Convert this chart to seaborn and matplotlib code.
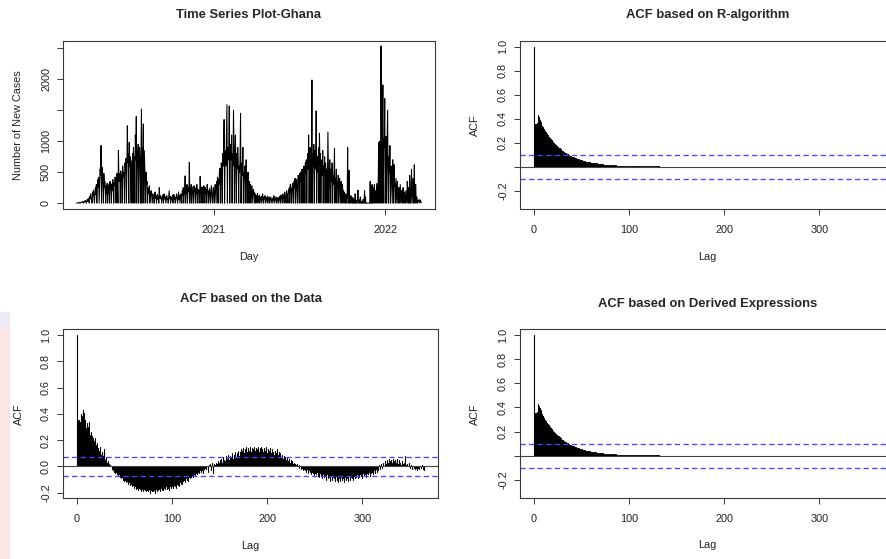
import pandas as pd
import seaborn as sns
import matplotlib.pyplot as plt
import matplotlib.dates as mdates
from matplotlib.patches import Rectangle

# daily new cases, starting mid March 2020
start_date = '2020-03-15'
cases = [
    0, 2, 0, 5, 8, 3, 10, 6, 0, 12,
    15, 8, 20, 30, 12, 0, 25, 35, 18, 40,
    22, 0, 45, 60, 30, 80, 50, 0, 110, 70,
    150, 90, 60, 0, 180, 120, 210, 80, 0, 160,
    250, 140, 300, 0, 220, 380, 260, 420, 0, 310,
    550, 450, 930, 0, 580, 400, 300, 0, 480, 260,
    350, 200, 0, 280, 150, 320, 0, 240, 180, 300,
    0, 350, 220, 270, 0, 310, 200, 380, 260, 0,
    330, 290, 420, 250, 0, 380, 480, 300, 0, 850,
    400, 350, 480, 0, 520, 380, 450, 0, 600, 420,
    500, 380, 0, 650, 480, 720, 0, 550, 1250, 650,
    800, 0, 980, 600, 750, 420, 0, 680, 520, 800,
    0, 900, 650, 750, 0, 1100, 700, 1400, 0, 850,
    600, 950, 0, 700, 900, 650, 0, 800, 1520, 0,
    900, 700, 1280, 0, 850, 600, 400, 0, 500, 300,
    350, 0, 250, 200, 150, 280, 0, 180, 120, 200,
    100, 0, 150, 90, 130, 0, 110, 180, 80, 120,
    0, 90, 140, 60, 100, 0, 250, 80, 120, 70,
    100, 0, 60, 130, 90, 0, 150, 70, 110, 50,
    0, 90, 120, 60, 80, 0, 100, 200, 70, 110,
    0, 60, 90, 50, 130, 0, 80, 140, 60, 100,
    0, 70, 110, 150, 50, 0, 90, 180, 60, 120,
    0, 80, 150, 100, 0, 200, 130, 250, 0, 180,
    150, 440, 0, 220, 160, 300, 0, 200, 250, 180,
    660, 0, 240, 170, 300, 0, 260, 200, 150, 0,
    280, 190, 250, 0, 210, 160, 300, 0, 230, 180,
    200, 0, 170, 430, 240, 0, 190, 260, 150, 0,
    210, 280, 180, 0, 250, 150, 220, 0, 300, 170,
    200, 0, 160, 240, 130, 0, 190, 280, 150, 0,
    120, 250, 180, 0, 200, 300, 160, 0, 350, 250,
    420, 0, 380, 300, 500, 560, 0, 450, 650, 500,
    0, 800, 600, 900, 1350, 0, 700, 850, 600, 1100,
    1590, 0, 900, 700, 800, 1570, 0, 650, 950, 700,
    1100, 0, 800, 600, 1500, 900, 0, 750, 1100, 650,
    0, 800, 550, 900, 700, 0, 600, 500, 750, 1450,
    0, 550, 650, 450, 900, 0, 500, 400, 600, 0,
    450, 700, 350, 0, 400, 500, 300, 0, 350, 250,
    300, 0, 200, 280, 150, 0, 220, 130, 180, 0,
    150, 100, 0, 120, 80, 160, 0, 100, 70, 130,
    0, 90, 60, 110, 0, 80, 150, 50, 0, 100,
    70, 120, 0, 60, 90, 40, 0, 110, 70, 50,
    0, 80, 100, 60, 0, 50, 90, 40, 0, 70,
    120, 60, 0, 80, 50, 100, 0, 60, 40, 90,
    0, 70, 110, 50, 0, 130, 80, 60, 0, 150,
    100, 80, 0, 180, 120, 90, 0, 200, 150, 110,
    0, 220, 160, 250, 0, 300, 180, 240, 0, 280,
    320, 200, 0, 350, 260, 400, 0, 300, 380, 250,
    0, 400, 450, 300, 0, 480, 350, 500, 0, 420,
    550, 380, 0, 500, 600, 450, 0, 650, 500, 700,
    0, 600, 800, 550, 1100, 0, 700, 900, 650, 0,
    750, 1990, 0, 800, 600, 950, 0, 700, 850, 550,
    1490, 0, 600, 750, 500, 900, 0, 1130, 650, 800,
    0, 550, 700, 450, 850, 0, 600, 500, 750, 0,
    650, 450, 550, 0, 400, 1150, 600, 0, 500, 700,
    400, 0, 550, 350, 650, 0, 450, 300, 500, 880,
    0, 400, 300, 550, 0, 350, 250, 450, 0, 300,
    400, 200, 0, 350, 250, 0, 300, 150, 200, 0,
    180, 100, 0, 150, 0, 120, 80, 900, 0, 100,
    530, 0, 80, 0, 120, 50, 0, 0, 90, 0,
    60, 0, 0, 150, 0, 40, 0, 0, 80, 210,
    0, 0, 50, 0, 100, 0, 0, 30, 0, 0,
    60, 0, 0, 200, 0, 100, 0, 0, 0, 0,
    0, 0, 0, 0, 0, 350, 0, 150, 0, 300,
    0, 250, 180, 0, 300, 0, 200, 150, 0, 280,
    320, 0, 250, 980, 0, 1000, 700, 0, 2540, 1000,
    0, 800, 1910, 0, 1050, 900, 1690, 0, 700, 1075,
    0, 900, 1500, 600, 0, 750, 500, 930, 0, 400,
    600, 300, 0, 700, 450, 0, 620, 350, 250, 0,
    400, 200, 0, 350, 150, 0, 250, 100, 0, 300,
    150, 0, 200, 80, 0, 250, 100, 0, 180, 50,
    0, 200, 100, 0, 350, 150, 0, 250, 0, 450,
    100, 0, 300, 550, 0, 200, 400, 0, 150, 620,
    0, 250, 300, 0, 100, 60, 0, 40, 20, 60,
    30, 0, 50, 20, 10,
]
case_ticks = [0, 500, 1000, 1500, 2000, 2500]
case_labels = ['0', '500', '1000', '', '2000', '']

# sample ACF of the data, lags 0..365
acf_data = [
    1.00, 0.35, 0.35, 0.34, 0.40, 0.38, 0.43, 0.40, 0.41, 0.35,
    0.29, 0.33, 0.30, 0.34, 0.24, 0.26, 0.23, 0.22, 0.19, 0.22,
    0.16, 0.18, 0.14, 0.12, 0.15, 0.09, 0.11, 0.08, 0.10, 0.13,
    0.05, 0.07, 0.03, 0.04, 0.02, 0.01, 0.00, -0.02, -0.03, -0.04,
    -0.05, -0.04, -0.06, -0.07, -0.06, -0.08, -0.09, -0.08, -0.10, -0.09,
    -0.11, -0.10, -0.12, -0.11, -0.13, -0.12, -0.14, -0.13, -0.15, -0.14,
    -0.16, -0.15, -0.17, -0.16, -0.18, -0.16, -0.17, -0.19, -0.17, -0.18,
    -0.19, -0.17, -0.18, -0.19, -0.18, -0.19, -0.17, -0.20, -0.18, -0.19,
    -0.19, -0.18, -0.20, -0.17, -0.19, -0.18, -0.17, -0.19, -0.16, -0.18,
    -0.17, -0.18, -0.16, -0.17, -0.15, -0.17, -0.16, -0.18, -0.15, -0.16,
    -0.15, -0.16, -0.14, -0.15, -0.16, -0.13, -0.14, -0.15, -0.12, -0.13,
    -0.12, -0.13, -0.11, -0.10, -0.12, -0.09, -0.10, -0.11, -0.08, -0.09,
    -0.08, -0.07, -0.08, -0.06, -0.07, -0.05, -0.06, -0.04, -0.05, -0.03,
    -0.04, -0.02, -0.03, -0.05, -0.02, -0.01, -0.02, 0.00, -0.04, 0.01,
    0.02, -0.03, 0.03, -0.05, 0.02, 0.01, 0.03, 0.02, 0.04, 0.03,
    0.05, 0.04, 0.06, 0.03, 0.07, 0.05, 0.04, 0.08, 0.06, 0.09,
    0.05, 0.08, 0.07, 0.10, 0.06, 0.09, 0.11, 0.07, 0.10, 0.12,
    0.08, 0.11, 0.13, 0.09, 0.12, 0.14, 0.10, 0.13, 0.15, 0.11,
    0.14, 0.12, 0.15, 0.11, 0.14, 0.13, 0.15, 0.12, 0.14, 0.13,
    0.15, 0.11, 0.14, 0.12, 0.15, 0.13, 0.11, 0.14, 0.12, 0.15,
    0.10, 0.13, 0.12, 0.14, 0.10, 0.13, 0.11, 0.09, 0.12, 0.10,
    0.13, 0.09, 0.11, 0.08, 0.10, 0.07, 0.09, 0.06, 0.08, 0.07,
    0.05, 0.07, 0.04, 0.06, 0.03, 0.05, 0.04, 0.02, 0.03, 0.02,
    0.01, 0.02, 0.00, 0.01, -0.01, 0.00, -0.02, -0.01, -0.03, -0.02,
    -0.03, -0.04, -0.02, -0.05, -0.03, -0.04, -0.06, -0.04, -0.05, -0.07,
    -0.05, -0.06, -0.04, -0.07, -0.06, -0.08, -0.05, -0.07, -0.09, -0.06,
    -0.08, -0.07, -0.10, -0.06, -0.09, -0.08, -0.11, -0.07, -0.10, -0.08,
    -0.09, -0.11, -0.07, -0.10, -0.12, -0.08, -0.09, -0.11, -0.08, -0.10,
    -0.09, -0.12, -0.08, -0.10, -0.09, -0.11, -0.07, -0.10, -0.08, -0.09,
    -0.10, -0.07, -0.09, -0.08, -0.06, -0.09, -0.07, -0.08, -0.06, -0.07,
    -0.09, -0.05, -0.07, -0.06, -0.08, -0.05, -0.06, -0.04, -0.07, -0.05,
    -0.04, -0.06, -0.03, -0.05, -0.02, -0.04, -0.01, -0.03, 0.01, -0.02,
    0.02, -0.01, 0.03, 0.00, 0.04, 0.02, 0.05, 0.03, 0.06, 0.04,
    0.05, 0.03, 0.06, 0.04, 0.05, 0.03, 0.06, 0.04, 0.02, 0.05,
    0.03, 0.01, 0.04, 0.02, 0.03, 0.08, 0.01, 0.02, 0.00, 0.03,
    -0.01, 0.01, -0.02, 0.00, -0.01, -0.02, -0.01, -0.02, -0.03, -0.01,
    -0.02, 0.00, -0.01, 0.01, -0.02, -0.03,
]

# model ACF (R algorithm), lags 0..132; beyond that it is ~0
acf_r_algorithm = [
    1.000, 0.355, 0.355, 0.360,
    0.430, 0.411, 0.393, 0.376, 0.359, 0.343, 0.328, 0.314, 0.300, 0.287,
    0.274, 0.262, 0.251, 0.240, 0.229, 0.219, 0.209, 0.200, 0.191, 0.183,
    0.175, 0.167, 0.160, 0.153, 0.146, 0.140, 0.133, 0.128, 0.122, 0.117,
    0.111, 0.106, 0.102, 0.097, 0.093, 0.089, 0.085, 0.081, 0.078, 0.074,
    0.071, 0.068, 0.065, 0.062, 0.059, 0.057, 0.054, 0.052, 0.050, 0.047,
    0.045, 0.043, 0.041, 0.040, 0.038, 0.036, 0.035, 0.033, 0.032, 0.030,
    0.029, 0.028, 0.027, 0.025, 0.024, 0.023, 0.022, 0.021, 0.020, 0.019,
    0.018, 0.018, 0.017, 0.016, 0.015, 0.015, 0.014, 0.013, 0.013, 0.012,
    0.012, 0.011, 0.011, 0.010, 0.010, 0.009, 0.009, 0.009, 0.008, 0.008,
    0.008, 0.008, 0.007, 0.007, 0.007, 0.007, 0.007, 0.006, 0.006, 0.006,
    0.006, 0.006, 0.006, 0.005, 0.005, 0.005, 0.005, 0.005, 0.005, 0.005,
    0.005, 0.005, 0.004, 0.004, 0.004, 0.004, 0.004, 0.004, 0.004, 0.004,
    0.004, 0.004, 0.004, 0.004, 0.004, 0.004, 0.004, 0.004, 0.004,
]
# the derived expressions give the same curve
acf_derived = list(acf_r_algorithm)

ci_data = 0.072
ci_model = 0.10
lag_ticks = [0, 100, 200, 300]
acf_ticks = [-0.2, 0.0, 0.2, 0.4, 0.6, 0.8, 1.0]

sns.set_style('ticks')
plt.rcParams['font.family'] = ['Liberation Sans', 'DejaVu Sans']
plt.rcParams['axes.unicode_minus'] = False

BOX = '#3a3a3a'
FS = 7.8
TFS = 9.4


def r_style(ax, xlabel, ylabel, xlab_y, ylab_x):
    for s in ax.spines.values():
        s.set_visible(True)
        s.set_color(BOX)
        s.set_linewidth(0.8)
    ax.tick_params(axis='both', direction='out', length=4.3, width=0.7,
                   color=BOX, labelsize=FS, labelcolor='#222222')
    ax.tick_params(axis='x', pad=7.0)
    ax.tick_params(axis='y', pad=4.3, labelrotation=90)
    for lab in ax.get_yticklabels():
        lab.set_va('center')
    ax.set_xlabel(xlabel, fontsize=FS, color='#222222')
    ax.set_ylabel(ylabel, fontsize=FS, color='#222222')
    ax.xaxis.label.set_va('center')
    ax.yaxis.label.set_va('center')
    ax.xaxis.set_label_coords(0.5, xlab_y)
    ax.yaxis.set_label_coords(ylab_x, 0.5)


def acf_panel(ax, values, ci, title, title_y, ylim, show_zero, xlab_y, ylab_x):
    lags = list(range(len(values)))
    ax.vlines(lags, 0, values, color='black', lw=0.8, capstyle='round')
    ax.axhline(0, color='#444444', lw=0.8)
    for c in (ci, -ci):
        ax.axhline(c, color='#4646ff', lw=0.95, ls=(0, (4, 2.5)))
    ax.set_xlim(-14.6, 379.6)
    ax.set_ylim(*ylim)
    ax.set_xticks(lag_ticks)
    ax.set_yticks(acf_ticks)
    labels = [f'{t:.1f}' for t in acf_ticks]
    if not show_zero:
        labels[1] = ''
    ax.set_yticklabels(labels)
    ax.set_title(title, fontsize=TFS, fontweight='bold', y=title_y, va='center', pad=0)
    r_style(ax, 'Lag', 'ACF', xlab_y, ylab_x)


fig = plt.figure(figsize=(8.86, 5.59), dpi=100)
W, H = 886, 559

# faint coloured strip at the left edge of the lower half (page background)
fig.patches.append(Rectangle((0, 1 - 327 / H), 10 / W, 15 / H, transform=fig.transFigure,
                             color='#eceaf6', lw=0, zorder=-1))
fig.patches.append(Rectangle((0, 0), 10 / W, 1 - 327 / H, transform=fig.transFigure,
                             color='#fbe6e6', lw=0, zorder=-1))


def add_axes(left, top, right, bottom):
    return fig.add_axes([left / W, 1 - bottom / H, (right - left) / W, (bottom - top) / H])


ax_ts = add_axes(63, 41, 435, 209)
ax_r = add_axes(520, 41, 895, 209)
ax_d = add_axes(63, 329.3, 438, 498.3)
ax_e = add_axes(520, 329.3, 895, 498.3)

# time series
df = pd.DataFrame({
    'Day': pd.date_range(start_date, periods=len(cases), freq='D'),
    'cases': cases,
})
sns.lineplot(data=df, x='Day', y='cases', ax=ax_ts, color='black', lw=0.75)
ax_ts.set_xlim(pd.Timestamp('2020-02-15'), pd.Timestamp('2022-04-17'))
ax_ts.set_ylim(-95, 2620)
ax_ts.xaxis.set_major_locator(mdates.YearLocator())
ax_ts.xaxis.set_major_formatter(mdates.DateFormatter('%Y'))
ax_ts.set_yticks(case_ticks)
ax_ts.set_yticklabels(case_labels)
ax_ts.set_title('Time Series Plot-Ghana', fontsize=TFS, fontweight='bold',
                y=1.155, va='center', pad=0)
r_style(ax_ts, 'Day', 'Number of New Cases', -0.286, -0.121)

acf_panel(ax_r, acf_r_algorithm, ci_model, 'ACF based on R-algorithm', 1.155,
          (-0.352, 1.047), False, -0.286, -0.12)
acf_panel(ax_d, acf_data, ci_data, 'ACF based on the Data', 1.179,
          (-0.242, 1.043), True, -0.282, -0.117)
acf_panel(ax_e, acf_derived, ci_model, 'ACF based on Derived Expressions', 1.15,
          (-0.352, 1.047), False, -0.276, -0.121)

fig.savefig('out.png', dpi=100)
